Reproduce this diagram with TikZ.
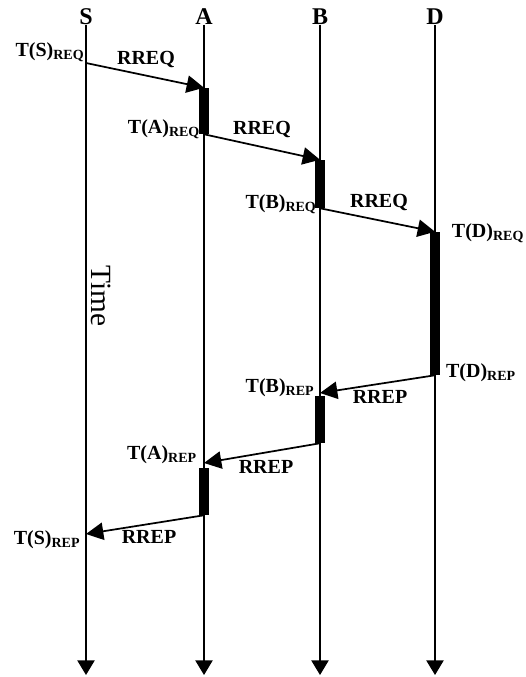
\documentclass[tikz,border=0pt]{standalone}
\usepackage{fontspec}
\setmainfont{Liberation Serif}
\usetikzlibrary{arrows.meta}
\usetikzlibrary{positioning}
\tikzset{
    objHead/.style={font=\bfseries\fontsize{18}{18}\selectfont, inner sep=0pt, anchor=south},
    objLabel/.style={font=\bfseries\fontsize{15}{15}\selectfont, inner sep=0pt},
    objActive/.style={rectangle, fill=black, draw=none, minimum width=7.5pt, inner sep=0pt},
    lifeline/.style={line width=1pt, -{Triangle[length=11pt, width=13pt]}},
    arrow/.style={line width=1.3pt, -{Triangle[length=13pt, width=13pt]}}
}

\begin{document}
\begin{tikzpicture}[x=0.75pt, y=-0.75pt]
    \useasboundingbox (0,0) rectangle (525,677);

    \node (S) [objHead] at (86,25) {S};
    \node (A) [objHead] at (204,25) {A};
    \node (B) [objHead] at (320,25) {B};
    \node (D) [objHead] at (435,25) {D};
    \coordinate (S-end) at (86,675);
    \coordinate (A-end) at (204,675);
    \coordinate (B-end) at (320,675);
    \coordinate (D-end) at (435,675);

    \draw [lifeline] (S) -- (S-end);
    \draw [lifeline] (A) -- (A-end);
    \draw [lifeline] (B) -- (B-end);
    \draw [lifeline] (D) -- (D-end);

    \node (time) [font=\fontsize{22}{22}\selectfont, rotate=-90] at (101,296) {Time};

    \node (actA) [objActive, minimum height=34.5pt] at (204,111) {};
    \node (actB) [objActive, minimum height=36pt] at (320,184) {};
    \node (actD) [objActive, minimum height=107.25pt] at (435,303.5) {};
    \node (actB2) [objActive, minimum height=35.25pt] at (320,419.5) {};
    \node (actA2) [objActive, minimum height=35.25pt] at (204,491.5) {};

    \coordinate (sReq) at (86,63);
    \coordinate (bRep) at (320,393);
    \coordinate (aRep) at (204,463);
    \coordinate (sRep) at (86,534);

    \draw [arrow] (sReq) -- (actA.north);
    \draw [arrow] (actA.south) -- (actB.north);
    \draw [arrow] (actB.south) -- (actD.north);
    \draw [arrow] (actD.south) -- (bRep);
    \draw [arrow] (actB2.south) -- (aRep);
    \draw [arrow] (actA2.south) -- (sRep);

    \node (tsReq) [objLabel] at (50,52) {T(S)\textsubscript{REQ}};
    \node (taReq) [objLabel] at (164,129) {T(A)\textsubscript{REQ}};
    \node (tbReq) [objLabel] at (281,204) {T(B)\textsubscript{REQ}};
    \node (tdReq) [objLabel] at (488,233) {T(D)\textsubscript{REQ}};
    \node (tdRep) [objLabel] at (481,373) {T(D)\textsubscript{REP}};
    \node (tbRep) [objLabel] at (280,388) {T(B)\textsubscript{REP}};
    \node (taRep) [objLabel] at (162,455) {T(A)\textsubscript{REP}};
    \node (tsRep) [objLabel] at (47,540) {T(S)\textsubscript{REP}};

    \node (req1) [objLabel] at (146,60) {RREQ};
    \node (req2) [objLabel] at (262,130) {RREQ};
    \node (req3) [objLabel] at (379,203) {RREQ};
    \node (rep1) [objLabel] at (380,397) {RREP};
    \node (rep2) [objLabel] at (266,467) {RREP};
    \node (rep3) [objLabel] at (149,537) {RREP};

\end{tikzpicture}
\end{document}
